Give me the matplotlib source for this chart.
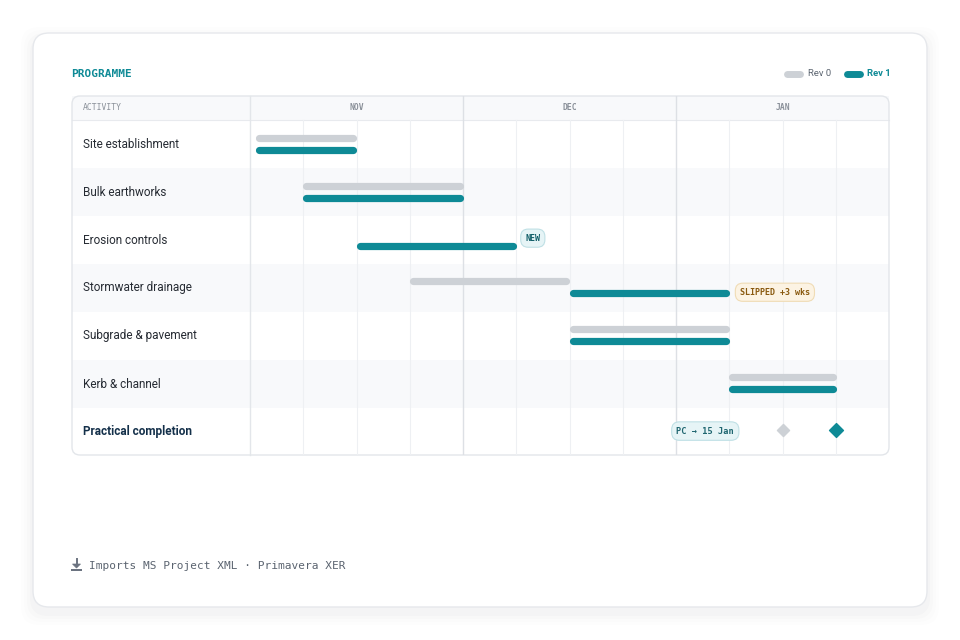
import matplotlib
matplotlib.use("Agg")
import matplotlib.pyplot as plt
from matplotlib.patches import FancyBboxPatch, Rectangle, Polygon

activities = ["Site establishment", "Bulk earthworks", "Erosion controls", "Stormwater drainage",
              "Subgrade & pavement", "Kerb & channel", "Practical completion"]
# week offsets from start of Nov (12 weeks: Nov, Dec, Jan)
rev0_start = [0.1, 1, None, 3, 6, 9]
rev0_end = [2, 4, None, 6, 9, 11]
rev1_start = [0.1, 1, 2, 6, 6, 9]
rev1_end = [2, 4, 5, 9, 9, 11]
milestone_rev0 = 10
milestone_rev1 = 11
months = ["NOV", "DEC", "JAN"]
weeks_per_month = 4

TEAL = "#0e8a96"
GREY = "#cdd1d6"
SANS = ["Roboto", "DejaVu Sans"]
MONO = ["DejaVu Sans Mono"]

fig = plt.figure(figsize=(9.6, 6.4), dpi=100)
fig.patch.set_facecolor("white")
bg = fig.add_axes([0, 0, 1, 1])
bg.set_xlim(0, 960); bg.set_ylim(640, 0); bg.axis("off")

# card shadow + card
for i, a in enumerate([0.006, 0.009, 0.012, 0.015]):
    g = 12 - i * 3
    bg.add_patch(FancyBboxPatch((33 - g, 33 - g + 6), 894 + 2 * g, 574 + 2 * g,
                                boxstyle="round,pad=0,rounding_size=18", fc="#1e2a3a", ec="none", alpha=a))
bg.add_patch(FancyBboxPatch((33, 33), 894, 574, boxstyle="round,pad=0,rounding_size=16",
                            fc="white", ec="#e6e8ec", lw=1))

bg.text(71, 74, "PROGRAMME", color=TEAL, fontsize=8, fontweight="bold", family=MONO, va="center")
# legend
bg.plot([787, 800], [74, 74], color=GREY, lw=5, solid_capstyle="round")
bg.text(808, 74, "Rev 0", fontsize=6.8, color="#5b6470", family=SANS, va="center")
bg.plot([847, 860], [74, 74], color=TEAL, lw=5, solid_capstyle="round")
bg.text(867, 74, "Rev 1", fontsize=6.8, color=TEAL, fontweight="bold", family=SANS, va="center")

L, R, T, H0, RH = 72, 889, 96, 24, 48
G0 = 250
nrows = len(activities)
B = T + H0 + RH * nrows - 1
bg.add_patch(Rectangle((L, T), R - L, H0, fc="#f8f9fb", ec="none"))
for i in range(nrows):
    y = T + H0 + i * RH
    if i % 2 == 1:
        bg.add_patch(Rectangle((L, y), R - L, RH, fc="#f8f9fb", ec="none"))
    bold = i == nrows - 1
    bg.text(83, y + RH / 2, activities[i], fontsize=8.5, family=SANS, va="center",
            color="#14304a" if bold else "#262b33", fontweight="bold" if bold else "normal")
bg.add_patch(FancyBboxPatch((L, T), R - L, B - T, boxstyle="round,pad=0,rounding_size=8",
                            fc="none", ec="#e3e6ea", lw=1, zorder=5))
bg.plot([L, R], [T + H0, T + H0], color="#e8eaee", lw=0.8)
bg.plot([G0, G0], [T, B], color="#e3e6ea", lw=1)
bg.text(83, T + H0 / 2, "ACTIVITY", fontsize=5.8, family=MONO, color="#8a9099", va="center")

nweeks = weeks_per_month * len(months)
ax = fig.add_axes([G0 / 960, 1 - B / 640, (R - G0) / 960, (B - T) / 640])
ax.set_xlim(0, nweeks); ax.set_ylim(nrows + 0.5, 0)  # header = 0.5 row
ax.axis("off"); ax.patch.set_alpha(0)
for w in range(1, nweeks):
    month_edge = w % weeks_per_month == 0
    ax.plot([w, w], [0 if month_edge else 0.5, nrows + 0.5],
            color="#dde0e5" if month_edge else "#eef0f3", lw=1 if month_edge else 0.8, zorder=1)
for m, name in enumerate(months):
    ax.text(m * weeks_per_month + weeks_per_month / 2, 0.25, name, ha="center", va="center",
            fontsize=5.8, family=MONO, color="#8a9099", fontweight="bold")

def rowc(i):
    return 0.5 + i + 0.5

for i in range(len(rev1_start)):
    c = rowc(i)
    if rev0_start[i] is not None:
        ax.plot([rev0_start[i] + 0.06, rev0_end[i] - 0.06], [c - 0.125] * 2, color=GREY, lw=5.2,
                solid_capstyle="round", zorder=3)
    ax.plot([rev1_start[i] + 0.06, rev1_end[i] - 0.06], [c + 0.125] * 2, color=TEAL, lw=5.2,
            solid_capstyle="round", zorder=3)

def badge(x, y, s, fc, ec, tc, ha="left", fs=6):
    ax.text(x, y, s, fontsize=fs, family=MONO, fontweight="bold", color=tc, va="center", ha=ha,
            zorder=6, clip_on=False,
            bbox=dict(boxstyle="round,pad=0.55,rounding_size=0.9", fc=fc, ec=ec, lw=0.8))

badge(rev1_end[2] + 0.17, rowc(2) - 0.03, "NEW", "#e6f4f6", "#bfe0e5", "#14606a")
badge(rev1_end[3] + 0.2, rowc(3) + 0.1, "SLIPPED +3 wks", "#fcf3e3", "#f0dcb5", "#8a5a10")
badge(8.55, rowc(6) - 0.0, "PC → 15 Jan", "#e6f4f6", "#bfe0e5", "#1f6670", ha="center", fs=6.2)
ax.scatter([milestone_rev0], [rowc(6) - 0.03], marker="D", s=38, color=GREY, zorder=5)
ax.scatter([milestone_rev1], [rowc(6) - 0.03], marker="D", s=50, color=TEAL, zorder=5)

# footer download icon (drawn as shapes)
ic = "#6b7380"
bg.plot([76.5, 76.5], [559, 566], color=ic, lw=1.4)
bg.add_patch(Polygon([[72.5, 564], [80.5, 564], [76.5, 568]], closed=True, fc=ic, ec=ic, lw=0.5))
bg.add_patch(Rectangle((71, 568.5), 11, 2.5, fc=ic, ec="none"))
bg.text(89, 566, "Imports MS Project XML · Primavera XER", fontsize=8, family=MONO,
        color="#5b6470", va="center")

fig.savefig("out.png", dpi=100)
